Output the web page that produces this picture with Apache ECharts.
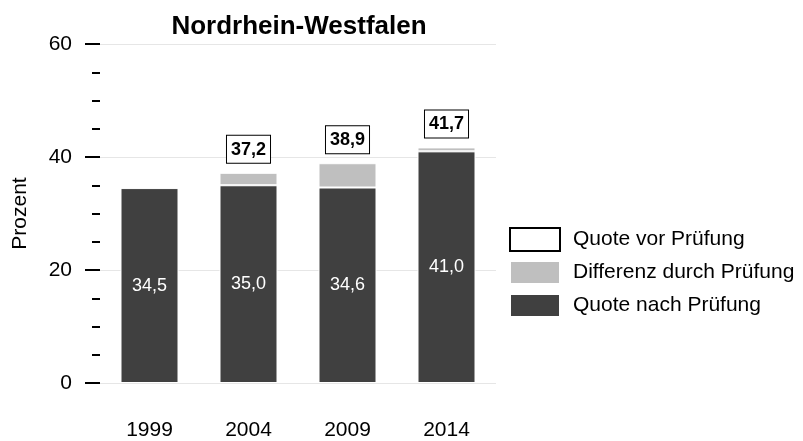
<!DOCTYPE html>
<html>
<head>
<meta charset="utf-8">
<script src="https://cdn.jsdelivr.net/npm/echarts@6/dist/echarts.min.js"></script>
<style>
  html, body { margin: 0; padding: 0; background: #ffffff; }
  #chart { width: 803px; height: 441px; }
</style>
</head>
<body>
<div id="chart"></div>
<script>
// Wahljahre
const years = ['1999', '2004', '2009', '2014'];
// Quote nach Prüfung (Prozent)
const quoteNach = [34.5, 35.0, 34.6, 41.0];
// Quote vor Prüfung (Prozent); 1999 ohne Angabe
const quoteVor = [null, 37.2, 38.9, 41.7];
// Differenz durch Prüfung = vor - nach
const differenz = [null, 2.2, 4.3, 0.7];
const yTicks = [0, 20, 40, 60];

const font = 'Liberation Sans, Arial, sans-serif';
const fmt = v => v.toFixed(1).replace('.', ',');
const chart = echarts.init(document.getElementById('chart'), null, { renderer: 'canvas' });

chart.setOption({
  animation: false,
  textStyle: { fontFamily: font },
  title: {
    text: 'Nordrhein-Westfalen',
    left: 294, top: 9, textAlign: 'center',
    textStyle: { fontFamily: font, fontSize: 26, fontWeight: 'bold', color: '#000' }
  },
  grid: { left: 100, top: 44, width: 396, height: 339 },
  legend: {
    orient: 'vertical', left: 504, top: 222,
    itemWidth: 50, itemHeight: 23, itemGap: 8,
    icon: 'rect',
    textStyle: { fontFamily: font, fontSize: 21, color: '#000', padding: [0, 0, 0, 8] },
    data: ['Quote vor Prüfung', 'Differenz durch Prüfung', 'Quote nach Prüfung']
  },
  xAxis: {
    type: 'category', data: years,
    axisLine: { show: false }, axisTick: { show: false },
    axisLabel: { margin: 37, fontSize: 21, color: '#000', fontFamily: font }
  },
  yAxis: {
    type: 'value', min: yTicks[0], max: yTicks[yTicks.length - 1], interval: 20,
    name: 'Prozent', nameLocation: 'middle', nameGap: 69, nameRotate: 90,
    nameTextStyle: { fontSize: 21, color: '#000', fontFamily: font },
    axisLine: { show: false },
    axisTick: { show: true, length: 15, lineStyle: { color: '#000', width: 2 } },
    minorTick: { show: true, splitNumber: 4, length: 8, lineStyle: { color: '#000', width: 2 } },
    axisLabel: { margin: 28, fontSize: 21, color: '#000', fontFamily: font },
    splitLine: { show: true, lineStyle: { color: '#e6e6e6', width: 1 } }
  },
  series: [
    {
      name: 'Quote vor Prüfung', type: 'bar', data: [],
      itemStyle: { color: '#ffffff', borderColor: '#000', borderWidth: 1 }
    },
    {
      name: 'Quote nach Prüfung', type: 'bar', stack: 'q', barWidth: 58,
      data: quoteNach,
      itemStyle: { color: '#404040', borderColor: '#ffffff', borderWidth: 1 },
      label: {
        show: true, position: 'inside', color: '#ffffff', fontSize: 18, fontFamily: font,
        formatter: p => fmt(p.value)
      }
    },
    {
      name: 'Differenz durch Prüfung', type: 'bar', stack: 'q', barWidth: 58,
      data: differenz.map((v, i) => ({
        value: v,
        label: { show: quoteVor[i] != null }
      })),
      itemStyle: { color: '#bfbfbf', borderColor: '#ffffff', borderWidth: 1 },
      label: {
        position: 'top', distance: 10,
        color: '#000', fontSize: 18, fontWeight: 'bold', fontFamily: font,
        backgroundColor: '#ffffff', borderColor: '#000', borderWidth: 1,
        padding: [5, 4, 4, 4],
        formatter: p => fmt(quoteVor[p.dataIndex])
      }
    }
  ]
});
</script>
</body>
</html>
